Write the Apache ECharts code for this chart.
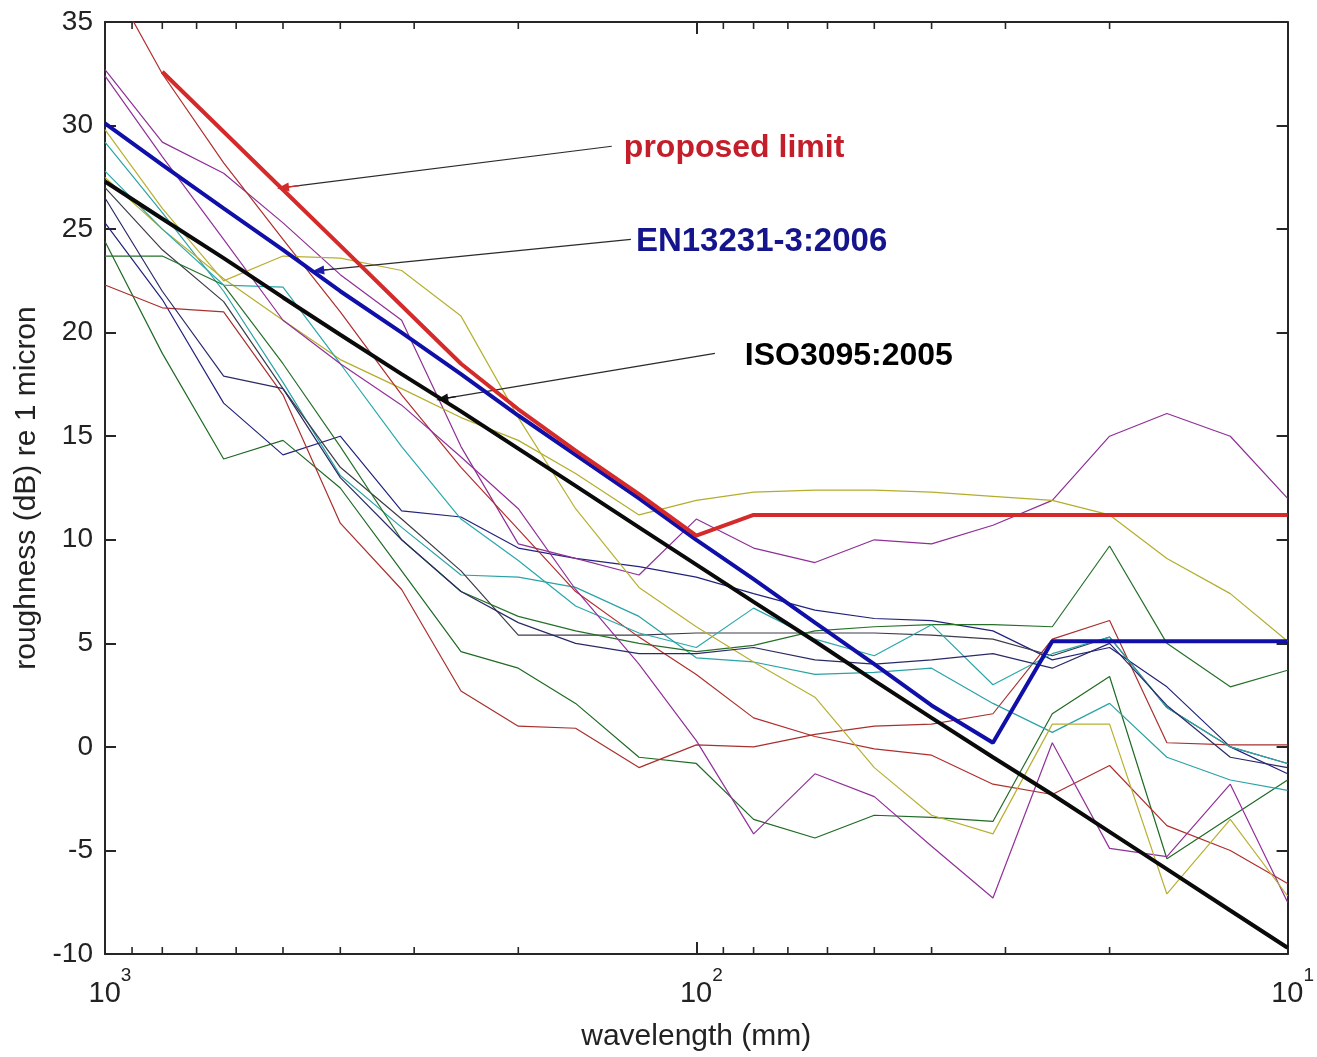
<!DOCTYPE html>
<html>
<head>
<meta charset="utf-8">
<title>rail roughness</title>
<script src="https://cdn.jsdelivr.net/npm/echarts@6/dist/echarts.min.js"></script>
<style>
	html, body { margin: 0; padding: 0; background: #fff; }
	#main { width: 1317px; height: 1057px; }
</style>
</head>
<body>
<div id="main"></div>
<script>
/*三分之一倍频程波长 (mm)*/
var bands = [1000, 800, 630, 500, 400, 315, 250, 200, 160, 125, 100, 80, 63, 50, 40, 31.5, 25, 20, 16, 12.5, 10];

/*x轴次刻度*/
var minorTicks = [900, 800, 700, 600, 500, 400, 300, 200, 90, 80, 70, 60, 50, 40, 30, 20];

/*限值曲线*/
var isoLimit = [27.3, 25.5, 23.6, 21.7, 19.9, 18.0, 16.2, 14.4, 12.6, 10.6, 8.8, 7.0, 5.1, 3.2, 1.4, -0.5, -2.3, -4.1, -5.9, -7.9, -9.7];
var enLimit = [30.1, 28.1, 26.0, 24.0, 22.0, 20.0, 18.0, 16.0, 14.1, 12.0, 10.0, 8.1, 6.0, 4.0, 2.0, 0.2, 5.1, 5.1, 5.1, 5.1, 5.1];
var proposedLimit = [null, 32.6, 29.7, 26.9, 24.2, 21.3, 18.5, 16.3, 14.3, 12.2, 10.2, 11.2, 11.2, 11.2, 11.2, 11.2, 11.2, 11.2, 11.2, 11.2, 11.2];

/*实测粗糙度*/
var meas01 = [25.3, 21.6, 16.6, 14.1, 15.0, 11.4, 11.1, 9.6, 9.1, 8.7, 8.2, 7.4, 6.6, 6.2, 6.1, 5.6, 4.2, 4.8, 2.9, 0.0, -1.3];
var meas02 = [24.4, 19.0, 13.9, 14.8, 12.5, 8.5, 4.6, 3.8, 2.1, -0.5, -0.8, -3.5, -4.4, -3.3, -3.4, -3.6, 1.6, 3.4, -5.4, -3.4, -1.6];
var meas03 = [22.3, 21.2, 21.0, 17.0, 10.8, 7.6, 2.7, 1.0, 0.9, -1.0, 0.1, 0.0, 0.6, 1.0, 1.1, 1.6, 5.2, 6.1, 0.2, 0.1, 0.1];
var meas04 = [29.2, 25.8, 22.0, 17.6, 13.1, 10.6, 8.3, 8.2, 7.7, 6.3, 4.3, 4.1, 3.5, 3.6, 3.8, 2.1, 0.7, 2.1, -0.5, -1.6, -2.1];
var meas05 = [32.7, 29.2, 27.7, 25.3, 22.8, 20.6, 14.5, 9.8, 9.1, 8.3, 11.0, 9.6, 8.9, 10.0, 9.8, 10.7, 11.9, 15.0, 16.1, 15.0, 12.0];
var meas06 = [27.5, 25.0, 22.6, 20.6, 18.7, 17.3, 15.9, 14.8, 13.2, 11.2, 11.9, 12.3, 12.4, 12.4, 12.3, 12.1, 11.9, 11.2, 9.1, 7.4, 5.1];
var meas07 = [27.0, 24.0, 21.5, 17.3, 13.5, 11.0, 8.5, 5.4, 5.4, 5.4, 5.5, 5.5, 5.5, 5.5, 5.4, 5.2, 4.4, 5.3, 1.9, 0.0, -0.8];
var meas08 = [23.7, 23.7, 22.3, 18.5, 14.5, 10.0, 7.5, 6.3, 5.6, 5.0, 4.6, 4.9, 5.6, 5.8, 5.9, 5.9, 5.8, 9.7, 5.0, 2.9, 3.7];
var meas09 = [37.5, 32.5, 28.2, 24.5, 21.0, 17.0, 13.5, 10.5, 7.5, 5.3, 3.5, 1.4, 0.5, -0.1, -0.4, -1.8, -2.3, -0.9, -3.8, -5.0, -6.6];
var meas10 = [27.8, 25.0, 22.3, 22.2, 18.5, 14.5, 11.0, 9.0, 6.8, 5.5, 4.8, 6.7, 5.2, 4.4, 5.9, 3.0, 4.5, 5.3, 1.9, 0.0, -0.8];
var meas11 = [32.4, 28.5, 24.5, 20.6, 18.5, 16.5, 14.0, 11.5, 7.6, 4.0, 0.3, -4.2, -1.3, -2.4, -4.8, -7.3, 0.2, -4.9, -5.3, -1.8, -7.5];
var meas12 = [29.8, 26.0, 22.5, 23.7, 23.6, 23.0, 20.8, 15.9, 11.5, 7.7, 5.8, 4.1, 2.4, -1.0, -3.3, -4.2, 1.1, 1.1, -7.1, -3.5, -7.2];
var meas13 = [26.5, 22.0, 17.9, 17.3, 13.0, 10.0, 7.5, 6.0, 5.0, 4.5, 4.5, 4.8, 4.2, 4.0, 4.2, 4.5, 3.8, 5.0, 2.0, -0.5, -1.0];

/*标注文字与箭头 [波长, dB]*/
var noteTexts = ['proposed limit', 'EN13231-3:2006', 'ISO3095:2005'];
var noteSizes = [32, 33, 32];
var notePos = [[132.6, 28.9], [126.5, 24.4], [82.8, 18.85]];
var arrowTail = [[139, 29.0], [129, 24.5], [93, 19.0]];
var arrowTip = [[500, 27.0], [436, 23.0], [269, 16.8]];

(function(){

	var self = '';
	var FONT = '"Liberation Sans", Arial, Helvetica, sans-serif';

	var viewConfig = {

		initialize: function(){
			self = this;
			var myChart = echarts.init(document.getElementById('main'));
			myChart.setOption(self.getOption());
		},

		/*组合数据点*/
		toPairs: function(vals){
			var out = [];
			for (var i = 0; i < bands.length; i++) {
				if (vals[i] != null) {
					out.push([bands[i], vals[i]]);
				}
			}
			return out;
		},

		/*细线*/
		thinLine: function(vals, color){
			return {
				type: 'line',
				data: self.toPairs(vals),
				symbol: 'none',
				silent: true,
				z: 2,
				lineStyle: { width: 1.2, color: color }
			};
		},

		/*粗线*/
		thickLine: function(vals, color, z){
			return {
				type: 'line',
				data: self.toPairs(vals),
				symbol: 'none',
				silent: true,
				z: z,
				lineStyle: { width: 4, color: color }
			};
		},

		/*箭头*/
		arrowLines: function(){
			var colors = ['#d42a2a', '#1c1ca8', '#111111'];
			var data = [];
			for (var i = 0; i < arrowTip.length; i++) {
				var tail = arrowTail[i], tip = arrowTip[i];
				data.push([
					{ coord: tail, symbol: 'none', lineStyle: { color: '#2a2a2a', width: 1.2, type: 'solid', opacity: 1 } },
					{ coord: tip, symbol: 'none' }
				]);
				// 箭头头部: 靠近尖端的短线段
				var t = 0.05;
				var hx = tip[0] * Math.pow(tail[0] / tip[0], t);
				var hy = tip[1] + t * (tail[1] - tip[1]);
				data.push([
					{ coord: [hx, hy], symbol: 'none', lineStyle: { color: colors[i], width: 1.2, type: 'solid', opacity: 1 } },
					{ coord: tip, symbol: 'triangle', symbolSize: [9, 12] }
				]);
			}
			return data;
		},

		getOption: function(){
			var textColors = ['#c41e2a', '#14148c', '#000000'];
			var notes = [];
			for (var i = 0; i < noteTexts.length; i++) {
				notes.push({
					value: notePos[i],
					label: { formatter: noteTexts[i], color: textColors[i], fontSize: noteSizes[i] }
				});
			}

			var bottomTicks = minorTicks.map(function(v){ return [v, -10]; });
			var topTicks = minorTicks.map(function(v){ return [v, 35]; });

			var axisLineStyle = { color: '#262626', width: 2 };

			var series = [
				self.thinLine(meas01, '#23237e'),
				self.thinLine(meas02, '#1f6a24'),
				self.thinLine(meas03, '#a8302e'),
				self.thinLine(meas04, '#2aa2a6'),
				self.thinLine(meas05, '#8e2f96'),
				self.thinLine(meas06, '#b4ad2c'),
				self.thinLine(meas07, '#3c3c48'),
				self.thinLine(meas08, '#26702a'),
				self.thinLine(meas09, '#b02e2e'),
				self.thinLine(meas10, '#2aa8aa'),
				self.thinLine(meas11, '#92309a'),
				self.thinLine(meas12, '#b8b032'),
				self.thinLine(meas13, '#2a2a66'),
				self.thickLine(isoLimit, '#0a0a0a', 5),
				self.thickLine(enLimit, '#1010a8', 6),
				self.thickLine(proposedLimit, '#d42a2a', 7),
				{
					type: 'scatter',
					data: bottomTicks,
					symbol: 'rect',
					symbolSize: [1.6, 7],
					symbolOffset: [0, -3.5],
					itemStyle: { color: '#262626', opacity: 1 },
					silent: true,
					clip: false,
					z: 8
				},
				{
					type: 'scatter',
					data: topTicks,
					symbol: 'rect',
					symbolSize: [1.6, 7],
					symbolOffset: [0, 3.5],
					itemStyle: { color: '#262626', opacity: 1 },
					silent: true,
					clip: false,
					z: 8
				},
				{
					type: 'scatter',
					data: notes,
					symbolSize: 0,
					silent: true,
					z: 9,
					itemStyle: { opacity: 1 },
					label: {
						show: true,
						position: 'right',
						distance: 0,
						opacity: 1,
						fontFamily: FONT,
						fontWeight: 'bold',
						fontSize: 32
					},
					markLine: {
						silent: true,
						animation: false,
						symbol: ['none', 'none'],
						label: { show: false },
						data: self.arrowLines()
					}
				}
			];

			return {
				animation: false,
				backgroundColor: '#ffffff',
				grid: { left: 105, right: 20, top: 22, bottom: 99 },
				xAxis: [{
					type: 'log',
					logBase: 10,
					min: 10,
					max: 1000,
					inverse: true,
					position: 'bottom',
					name: 'wavelength (mm)',
					nameLocation: 'middle',
					nameGap: 68,
					nameTextStyle: { fontFamily: FONT, fontSize: 30, color: '#222' },
					axisLine: { show: true, onZero: false, lineStyle: axisLineStyle },
					axisTick: { show: true, inside: true, length: 12, lineStyle: axisLineStyle },
					splitLine: { show: false },
					minorTick: { show: false },
					axisLabel: {
						margin: 12,
						formatter: function(value){
							var e = Math.round(Math.log(value) / Math.LN10);
							return '{b|10}{s|' + e + '}';
						},
						rich: {
							b: { fontFamily: FONT, fontSize: 29, color: '#222', lineHeight: 42, verticalAlign: 'bottom', padding: [0, 0, 0, 10] },
							s: { fontFamily: FONT, fontSize: 19, color: '#222', lineHeight: 42, verticalAlign: 'top' }
						}
					}
				}, {
					type: 'log',
					logBase: 10,
					min: 10,
					max: 1000,
					inverse: true,
					position: 'top',
					axisLine: { show: true, onZero: false, lineStyle: axisLineStyle },
					axisTick: { show: true, inside: true, length: 12, lineStyle: axisLineStyle },
					axisLabel: { show: false },
					splitLine: { show: false }
				}],
				yAxis: [{
					type: 'value',
					min: -10,
					max: 35,
					interval: 5,
					position: 'left',
					name: 'roughness (dB) re 1 micron',
					nameLocation: 'middle',
					nameGap: 60,
					nameTextStyle: { fontFamily: FONT, fontSize: 30, color: '#222' },
					axisLine: { show: true, onZero: false, lineStyle: axisLineStyle },
					axisTick: { show: true, inside: true, length: 11, lineStyle: axisLineStyle },
					splitLine: { show: false },
					axisLabel: { fontFamily: FONT, fontSize: 28, color: '#222', margin: 12 }
				}, {
					type: 'value',
					min: -10,
					max: 35,
					interval: 5,
					position: 'right',
					axisLine: { show: true, onZero: false, lineStyle: axisLineStyle },
					axisTick: { show: true, inside: true, length: 11, lineStyle: axisLineStyle },
					axisLabel: { show: false },
					splitLine: { show: false }
				}],
				series: series
			};
		}
	};

	viewConfig.initialize();
})();
</script>
</body>
</html>
